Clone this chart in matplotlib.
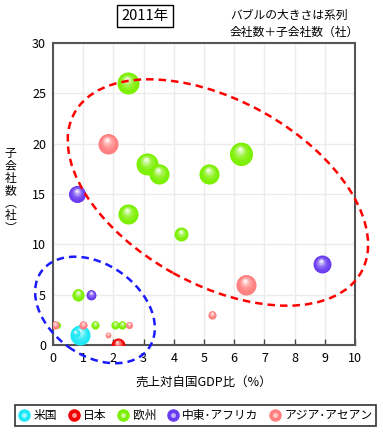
import numpy as np
import matplotlib
matplotlib.use("Agg")
import matplotlib.pyplot as plt
from matplotlib.colors import to_rgb
from matplotlib.transforms import offset_copy
from matplotlib.patches import Ellipse
from matplotlib.lines import Line2D
from matplotlib.legend_handler import HandlerTuple

plt.rcParams["font.family"] = ["Noto Sans CJK JP", "DejaVu Sans"]

# series data: x = sales / home GDP (%), y = subsidiaries, size = companies + subsidiaries
us_x = [0.9, 0.75]
us_y = [1.0, 1.2]
us_size = [25, 4]

jp_x = [2.15]
jp_y = [0]
jp_size = [12]

eu_x = [2.48, 3.11, 3.51, 2.48, 4.24, 5.17, 6.22, 0.83, 0.13, 1.39, 2.05, 2.3]
eu_y = [26, 18, 17, 13, 11, 17, 19, 5, 2, 2, 2, 2]
eu_size = [30, 30, 25, 25, 12, 25, 33, 9, 3, 4, 4, 4]

me_x = [0.8, 1.26, 8.9]
me_y = [15, 5, 8]
me_size = [18, 6, 20]

as_x = [1.82, 6.39, 5.27, 0.07, 1.0, 1.82, 2.52]
as_y = [20, 6, 3, 2, 2, 1, 2]
as_size = [25, 25, 4, 4, 4, 2, 3]

series_names = ["米国", "日本", "欧州", "中東･アフリカ", "アジア･アセアン"]
series_colors = ["#1ee8f5", "#f00000", "#7cf000", "#6a3cf0", "#ff8080"]

fig = plt.figure(figsize=(3.83, 4.33), dpi=100)
ax = fig.add_axes([0.1384, 0.2032, 0.7885, 0.6975])

SCALE = 8.35
white = np.array([1.0, 1.0, 1.0])
z = [3]


def sphere(x, y, v, color):
    s = SCALE * v
    r = np.sqrt(s) / 2
    base = np.array(to_rgb(color))
    n = 16
    for i in range(n):
        t = i / (n - 1)
        frac = 1 - 0.88 * t
        dx = -0.08 * r * t
        dy = 0.40 * r * t
        mix = 0.9 * t ** 2.2
        c = base * (1 - mix) + white * mix
        tr = offset_copy(ax.transData, fig=fig, x=dx, y=dy, units="points")
        ax.scatter([x], [y], s=(2 * r * frac) ** 2, color=[c], lw=0,
                   transform=tr, zorder=z[0])
        z[0] += 0.01


all_series = [(us_x, us_y, us_size), (jp_x, jp_y, jp_size),
              (eu_x, eu_y, eu_size), (me_x, me_y, me_size),
              (as_x, as_y, as_size)]

for (xs, ys, vs), col in zip(all_series, series_colors):
    for x, y, v in zip(xs, ys, vs):
        sphere(x, y, v, col)

ax.set_xlim(0, 10)
ax.set_ylim(0, 30)
ax.set_xticks(range(0, 11))
ax.set_yticks(range(0, 31, 5))
ax.grid(True, color="#ebebeb", lw=1)
ax.set_axisbelow(True)
ax.tick_params(axis="x", direction="in", length=4, width=1, pad=5,
               labelsize=9, color="#444444")
ax.tick_params(axis="y", length=0, pad=5, labelsize=9)
for sp in ax.spines.values():
    sp.set_color("#555555")
    sp.set_linewidth(1.5)

# dashed group ellipses
ax.add_patch(Ellipse((0.546, 0.505), 1.086, 0.61, angle=-29,
                     transform=ax.transAxes, fill=False, ec="#ff0000",
                     lw=1.8, ls=(0, (3, 2)), clip_on=False, zorder=10))
ax.add_patch(Ellipse((0.139, 0.116), 0.437, 0.301, angle=-35.5,
                     transform=ax.transAxes, fill=False, ec="#1a1aff",
                     lw=1.8, ls=(0, (3, 2)), clip_on=False, zorder=10))

ax.set_xlabel("売上対自国GDP比（%）", fontsize=9, labelpad=8)
fig.text(10.5 / 383, 1 - 191 / 433, "子\n会\n社\n数\n︵\n社\n︶",
         ha="center", va="center", fontsize=8.5, linespacing=0.95)

fig.text(145 / 383, 1 - 16 / 433, "2011年", ha="center", va="center",
         fontsize=10.5,
         bbox=dict(boxstyle="square,pad=0.3", fc="white", ec="black", lw=1))
fig.text(230 / 383, 1 - 15 / 433, "バブルの大きさは系列", ha="left",
         va="center", fontsize=8.5)
fig.text(230 / 383, 1 - 32 / 433, "会社数＋子会社数（社）", ha="left",
         va="center", fontsize=8.5)

handles = []
for col in series_colors:
    base = np.array(to_rgb(col))
    light = base * 0.4 + white * 0.6
    h1 = Line2D([], [], ls="none", marker="o", ms=8, mfc=col, mec=col)
    h2 = Line2D([], [], ls="none", marker="o", ms=2.5, mfc=light, mec=light)
    handles.append((h1, h2))

leg = fig.legend(handles, series_names, loc="center",
                 bbox_to_anchor=(195.5 / 383, 1 - 415.5 / 433), ncol=5,
                 handler_map={tuple: HandlerTuple(ndivide=1)},
                 fontsize=8.5, frameon=True, fancybox=False,
                 edgecolor="black", handlelength=1.0, handletextpad=0.3,
                 columnspacing=0.9, borderpad=0.3)
leg.get_frame().set_linewidth(1.2)

fig.savefig("out.png", dpi=100)
